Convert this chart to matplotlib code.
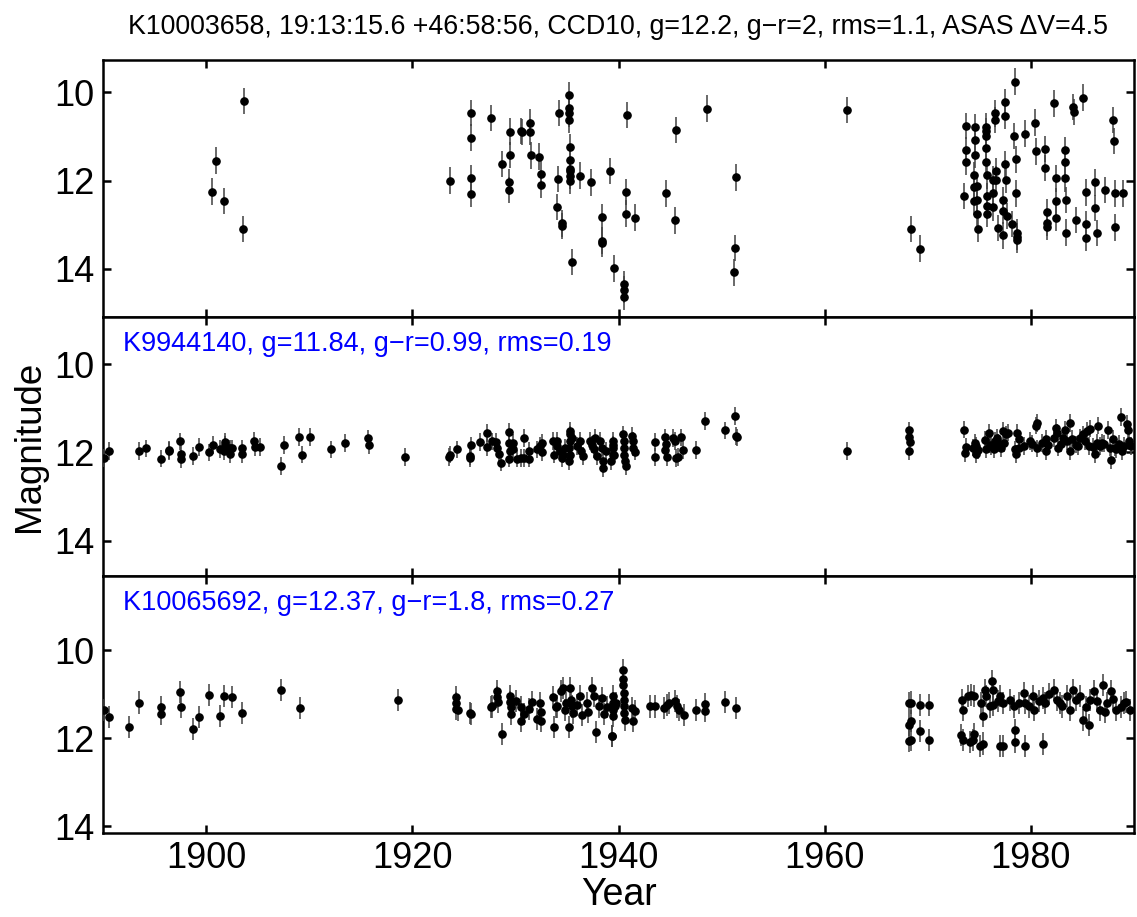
import matplotlib
matplotlib.use("Agg")
import matplotlib.pyplot as plt
import numpy as np

FONT = ["Liberation Sans Narrow", "Liberation Sans", "DejaVu Sans"]
plt.rcParams["font.family"] = FONT

TITLE = "K10003658, 19:13:15.6 +46:58:56, CCD10, g=12.2, g\u2212r=2, rms=1.1, ASAS \u0394V=4.5"
LABEL_MID = "K9944140, g=11.84, g\u2212r=0.99, rms=0.19"
LABEL_BOT = "K10065692, g=12.37, g\u2212r=1.8, rms=0.27"
XTICKS = [1900, 1920, 1940, 1960, 1980]
YTICKS = [10, 12, 14]

# --- target star K10003658 ---
top_year = [1900.6, 1901.0, 1901.7, 1903.7, 1903.6,
            1923.7, 1925.7, 1925.7, 1925.7, 1925.7, 1927.6, 1928.7,
            1929.5, 1929.5, 1929.4, 1929.4, 1930.5, 1930.6, 1931.4, 1931.4, 1931.5,
            1932.3, 1932.5, 1932.5, 1934.0, 1934.1, 1934.2, 1934.5, 1934.5,
            1935.2, 1935.2, 1935.2, 1935.2, 1935.3, 1935.3, 1935.3, 1935.3, 1935.3, 1935.3,
            1935.5, 1936.3, 1937.3, 1938.4, 1938.4, 1938.4, 1939.2, 1939.6,
            1940.5, 1940.5, 1940.5, 1940.8, 1940.7, 1940.7, 1941.6,
            1944.6, 1945.5, 1945.6, 1948.6, 1951.4, 1951.3, 1951.2, 1962.2,
            1968.4, 1969.2,
            1973.5, 1973.7, 1973.7, 1973.7, 1974.5, 1974.5, 1974.5,
            1974.6, 1974.6, 1974.6, 1974.8, 1974.8, 1974.8, 1974.9,
            1975.6, 1975.6, 1975.6, 1975.6, 1975.6, 1975.7, 1975.7, 1975.7, 1975.7,
            1976.3, 1976.3, 1976.3, 1976.6, 1976.6, 1976.5, 1976.5, 1976.8,
            1977.3, 1977.3, 1977.3, 1977.5, 1977.5, 1977.5, 1977.6, 1977.7, 1978.2,
            1978.4, 1978.5, 1978.6, 1978.6, 1978.7, 1978.7, 1978.7,
            1979.4, 1980.4, 1980.5, 1981.4, 1981.4, 1981.6, 1981.6, 1981.6,
            1982.2, 1982.4, 1982.4, 1982.4, 1983.3, 1983.3, 1983.3, 1983.4, 1983.4,
            1984.1, 1984.2, 1984.4, 1985.1, 1985.3, 1985.3, 1985.3,
            1986.2, 1986.2, 1986.4, 1987.2, 1988.0, 1988.1, 1988.2, 1988.2, 1988.9]
top_mag = [12.25, 11.55, 12.46, 10.20, 13.10,
           12.00, 10.47, 11.03, 11.95, 12.31, 10.58, 11.62,
           10.89, 11.42, 12.03, 12.21, 10.88, 10.90, 10.69, 10.90, 11.43,
           11.46, 11.85, 12.10, 12.60, 11.96, 10.47, 12.97, 13.03,
           10.06, 10.35, 10.48, 10.63, 11.25, 11.54, 11.74, 11.78, 11.89, 12.01,
           13.84, 11.89, 12.04, 12.83, 13.36, 13.42, 11.78, 13.99,
           14.34, 14.47, 14.63, 10.51, 12.26, 12.75, 12.84,
           12.29, 12.90, 10.86, 10.37, 11.93, 13.53, 14.08, 10.40,
           13.10, 13.54,
           12.35, 10.76, 11.31, 11.57, 11.87, 12.14, 12.47,
           10.79, 11.08, 11.42, 12.12, 12.45, 12.75, 13.10,
           10.78, 10.88, 10.99, 11.27, 11.58, 11.88, 12.35, 12.57, 12.76,
           12.61, 12.29, 11.98, 11.79, 11.98, 10.48, 10.63, 13.08,
           12.44, 12.69, 13.24, 10.23, 10.53, 11.63, 11.98, 12.80, 12.98,
           10.99, 9.76, 11.52, 12.29, 13.18, 13.27, 13.34,
           10.94, 10.69, 11.34, 11.29, 11.72, 12.72, 12.95, 13.05,
           10.25, 11.95, 12.47, 12.84, 11.31, 11.59, 11.95, 12.44, 13.18,
           10.33, 10.45, 12.89, 10.12, 12.27, 12.98, 13.30,
           12.04, 12.62, 13.19, 12.21, 10.63, 11.11, 12.29, 13.06, 12.29]
top_err = 0.3

# --- comparison star K9944140 ---
mid_year = [1890.1, 1890.6, 1893.5, 1894.2, 1895.6, 1896.4, 1896.4, 1897.5, 1897.6, 1897.6,
            1898.7, 1899.3, 1900.3, 1900.7, 1901.3, 1901.8, 1901.8, 1901.7, 1902.3, 1902.3,
            1902.5, 1903.5, 1903.5, 1904.6, 1904.7, 1905.2, 1907.3, 1907.6, 1909.0, 1909.3,
            1910.1, 1912.1, 1913.5, 1915.7, 1915.8, 1919.3,
            1923.6, 1923.7, 1924.3, 1925.6, 1925.6, 1925.7, 1926.6, 1927.2, 1927.2, 1927.7,
            1928.1, 1928.2, 1928.4, 1928.6, 1929.4, 1929.4, 1929.5, 1929.4, 1929.8, 1929.8,
            1930.2, 1930.5, 1930.8, 1930.8, 1931.3, 1931.3,
            1932.1, 1932.4, 1932.6, 1932.6, 1933.6, 1933.7, 1934.0, 1934.0, 1934.3, 1934.5,
            1934.8, 1934.6, 1935.3, 1935.3, 1935.3, 1935.2, 1935.3, 1935.2, 1935.5,
            1936.3, 1936.4, 1936.6, 1936.0, 1937.2, 1937.6, 1937.7, 1937.9, 1937.4,
            1938.4, 1938.5, 1938.5, 1938.8, 1938.2, 1939.5, 1939.6,
            1939.5, 1939.5, 1939.5, 1939.3, 1940.4, 1940.5, 1940.5, 1940.5, 1940.6, 1940.7,
            1941.3, 1941.4, 1941.4, 1941.6,
            1943.5, 1943.5, 1944.5, 1944.6, 1944.5, 1944.7, 1945.3, 1945.5, 1945.6, 1945.8,
            1946.1, 1946.3, 1947.5, 1948.4, 1950.3, 1951.3, 1951.4, 1951.5, 1962.2,
            1968.2, 1968.2, 1968.3, 1968.2,
            1973.5, 1973.7, 1973.6, 1974.4, 1974.6, 1974.7, 1974.9, 1974.7, 1975.5, 1975.6,
            1975.9, 1976.0, 1976.4, 1976.5, 1976.7, 1976.8, 1977.3, 1977.4, 1977.6, 1977.8,
            1978.5, 1978.6, 1978.7, 1978.8, 1978.8, 1979.9, 1980.5, 1980.6, 1980.6, 1981.5,
            1981.5, 1981.7, 1982.2, 1982.4, 1982.5, 1982.6, 1983.1, 1983.3, 1983.5, 1983.8,
            1983.8, 1984.0, 1984.4, 1984.8, 1985.1, 1985.4, 1985.6, 1985.7, 1986.2, 1986.4,
            1986.5, 1986.7, 1986.9, 1987.5, 1987.7, 1987.8, 1988.0, 1988.2, 1988.3, 1988.7,
            1988.8, 1989.3, 1989.4, 1989.5, 1989.7,
            1976.1, 1977.1, 1979.3, 1980.1, 1981.1, 1982.9, 1984.6, 1985.2, 1986.0, 1987.1,
            1988.5, 1989.0]
mid_mag = [12.12, 11.97, 11.97, 11.91, 12.14, 11.97, 11.95, 11.75, 12.03, 12.15,
           12.08, 11.88, 12.00, 11.83, 11.92, 11.76, 11.83, 11.97, 11.91, 12.03,
           11.91, 11.91, 12.03, 11.73, 11.88, 11.88, 12.30, 11.83, 11.65, 12.05,
           11.65, 11.93, 11.79, 11.68, 11.83, 12.10,
           12.10, 12.05, 11.93, 12.08, 12.13, 11.84, 11.76, 11.56, 11.87, 11.75,
           11.76, 11.89, 12.03, 12.23, 11.53, 11.78, 11.97, 12.14, 11.78, 11.93,
           12.14, 12.12, 11.67, 12.12, 11.97, 12.14,
           11.93, 11.86, 11.78, 12.00, 11.74, 12.05, 11.86, 11.74, 11.97, 12.12,
           11.89, 12.05, 11.52, 11.59, 11.74, 11.89, 12.05, 12.20, 11.67,
           11.74, 11.97, 12.08, 11.86, 11.74, 11.93, 11.67, 12.08, 11.82,
           11.89, 12.20, 12.35, 11.97, 11.74, 11.82, 12.05,
           11.74, 11.89, 12.05, 12.20, 11.59, 11.74, 11.89, 12.05, 12.20, 12.31,
           11.63, 11.74, 11.89, 11.98,
           11.77, 12.11, 11.66, 11.80, 11.95, 12.10, 11.67, 11.74, 12.12, 12.10,
           11.66, 11.95, 11.95, 11.29, 11.50, 11.18, 11.62, 11.66, 11.96,
           11.50, 11.65, 11.77, 11.96,
           11.48, 11.88, 12.02, 11.89, 11.78, 11.86, 11.95, 12.04, 11.72, 11.93,
           11.55, 11.82, 11.93, 11.74, 11.67, 11.78, 11.52, 11.78, 11.59, 11.55,
           11.93, 12.04, 11.55, 11.70, 11.89, 11.74, 11.39, 11.33, 11.91, 11.70,
           11.97, 11.82, 11.67, 11.44, 11.55, 11.89, 11.67, 11.48, 11.74, 11.33,
           11.97, 11.70, 11.82, 11.67, 11.59, 11.52, 11.86, 11.46, 12.04, 11.78,
           11.39, 11.86, 11.78, 11.49, 11.89, 12.18, 11.70, 11.89, 11.93, 11.20,
           11.97, 11.36, 11.49, 11.74, 11.86,
           11.86, 11.90, 11.85, 11.80, 11.78, 11.80, 11.85, 11.75, 11.88, 11.80,
           11.80, 11.85]
mid_err = 0.2

# --- comparison star K10065692 ---
bot_year = [1890.1, 1890.6, 1892.5, 1893.5, 1895.6, 1895.6, 1897.5, 1897.6, 1898.7, 1899.3,
            1900.3, 1901.3, 1901.7, 1902.5, 1903.5, 1907.3, 1909.1, 1918.6,
            1924.2, 1924.2, 1924.2, 1924.4, 1925.6, 1925.7, 1927.6, 1927.7, 1928.2, 1928.2,
            1928.3, 1928.7, 1929.5, 1929.5, 1929.6, 1929.6, 1930.1, 1930.5, 1930.5, 1930.8,
            1931.35, 1931.6, 1932.1, 1932.4, 1932.5, 1932.5, 1933.6, 1933.7, 1934.0, 1934.4,
            1934.6, 1934.9, 1935.2, 1935.3, 1935.4, 1935.5, 1935.6, 1936.3, 1936.5, 1936.9,
            1937.4, 1937.6, 1937.8, 1938.1, 1938.4, 1938.6, 1939.4, 1939.7, 1939.8,
            1933.9, 1934.8, 1936.0, 1937.0, 1938.9,
            1939.4, 1939.5, 1939.5, 1939.5, 1939.5, 1940.4, 1940.4, 1940.4, 1940.5, 1940.5,
            1940.5, 1940.5, 1940.6, 1941.3, 1941.4, 1941.6,
            1943.1, 1943.5, 1944.4, 1944.7, 1944.9, 1945.5, 1945.7, 1945.9, 1946.4, 1947.5,
            1948.4, 1948.4, 1950.3, 1951.4,
            1968.2, 1968.4, 1968.2, 1968.4, 1968.2, 1968.4, 1969.2, 1969.2, 1970.1, 1970.1,
            1973.2, 1973.3, 1973.4, 1973.4, 1973.9, 1974.1, 1974.2, 1974.4, 1974.5, 1974.5,
            1975.1, 1975.2, 1975.4, 1975.4, 1975.5, 1975.6, 1976.2, 1976.3, 1976.0, 1976.3,
            1977.0, 1977.3, 1977.0, 1977.3, 1978.0, 1978.4, 1978.5, 1978.5, 1979.3, 1979.4,
            1979.4, 1980.2, 1980.3, 1981.2, 1981.2, 1981.4, 1982.2, 1982.5, 1983.0, 1983.5,
            1984.1, 1984.4, 1985.1, 1985.6, 1985.7, 1986.1, 1986.7, 1987.0, 1987.4, 1987.8,
            1988.3, 1989.0, 1989.2,
            1976.8, 1978.8, 1979.8, 1980.8, 1981.8, 1982.8, 1983.8, 1984.8, 1985.3, 1986.4,
            1987.2, 1988.0, 1988.7, 1989.6]
bot_mag = [11.37, 11.52, 11.75, 11.19, 11.30, 11.44, 10.95, 11.30, 11.80, 11.52,
           11.03, 11.50, 11.05, 11.07, 11.43, 10.91, 11.32, 11.13,
           11.07, 11.20, 11.33, 11.36, 11.43, 11.45, 11.30, 11.28, 10.93, 11.07,
           11.17, 11.90, 11.05, 11.18, 11.30, 11.45, 11.15, 11.30, 11.60, 11.45,
           11.34, 11.18, 11.56, 11.20, 11.41, 11.60, 11.07, 11.75, 11.28, 10.92,
           10.86, 11.20, 11.75, 10.86, 11.13, 11.28, 11.43, 11.05, 11.47, 11.20,
           10.86, 11.05, 11.85, 11.28, 11.09, 11.45, 11.94, 11.28, 11.20,
           11.30, 11.35, 11.25, 11.40, 11.30,
           11.94, 11.05, 11.20, 11.35, 11.50, 10.45, 10.66, 10.79, 10.98, 11.13,
           11.28, 11.43, 11.58, 11.31, 11.62, 11.38,
           11.28, 11.28, 11.31, 11.24, 11.20, 11.16, 11.28, 11.35, 11.47, 11.35,
           11.23, 11.38, 11.18, 11.31,
           11.20, 11.19, 11.71, 11.61, 12.07, 12.05, 11.24, 11.83, 11.24, 12.05,
           11.92, 11.13, 11.37, 12.03, 11.05, 12.09, 11.01, 12.03, 11.90, 11.05,
           12.18, 11.20, 12.12, 11.50, 10.90, 11.05, 10.71, 10.90, 11.28, 11.24,
           12.18, 12.18, 11.05, 11.20, 11.13, 11.28, 11.81, 12.09, 10.98, 12.17,
           11.20, 11.05, 11.35, 12.14, 11.09, 11.20, 10.90, 11.13, 11.28, 11.05,
           10.90, 11.13, 11.58, 11.69, 11.13, 10.94, 11.35, 10.79, 11.20, 10.94,
           11.35, 11.20, 11.17,
           11.15, 11.20, 11.28, 11.15, 11.00, 11.20, 11.35, 11.05, 11.30, 11.15,
           11.40, 11.10, 11.30, 11.35]
bot_err = 0.25

panels = [
    (top_year, top_mag, top_err, (15.09, 9.27), None),
    (mid_year, mid_mag, mid_err, (14.80, 8.93), LABEL_MID),
    (bot_year, bot_mag, bot_err, (14.15, 8.32), LABEL_BOT),
]

W, H = 1137, 917
fig = plt.figure(figsize=(W / 100, H / 100), dpi=100)
left, right = 103 / W, 1134 / W
edges = [60, 317, 576, 833]

axes = []
for i, (yr, mg, er, ylim, label) in enumerate(panels):
    y0, y1 = edges[i], edges[i + 1]
    ax = fig.add_axes([left, 1 - y1 / H, right - left, (y1 - y0) / H])
    ax.errorbar(yr, mg, yerr=er, fmt="o", ms=5.2, mfc="k", mec="k",
                ecolor="0.25", elinewidth=1.1, capsize=0, zorder=3)
    ax.set_xlim(1890, 1990)
    ax.set_ylim(*ylim)
    ax.set_xticks(XTICKS)
    ax.set_yticks(YTICKS)
    ax.tick_params(direction="in", length=6, width=1.8, top=True, right=True,
                   labelsize=26, pad=6)
    for s in ax.spines.values():
        s.set_linewidth(1.8)
    if i < 2:
        ax.tick_params(labelbottom=False)
    if label:
        ax.text(0.0194, 0.895, label, transform=ax.transAxes, color="#0000ff",
                fontsize=19.5, ha="left", va="center")
    axes.append(ax)

fig.text((left + right) / 2, 1 - 27 / H, TITLE, fontsize=19.3,
         ha="center", va="center")
fig.text((left + right) / 2, 1 - 895 / H, "Year", fontsize=27,
         ha="center", va="center")
fig.text(30 / W, 1 - 446 / H, "Magnitude", rotation=90, fontsize=26.5,
         ha="center", va="center")

fig.savefig("out.png", dpi=100)
